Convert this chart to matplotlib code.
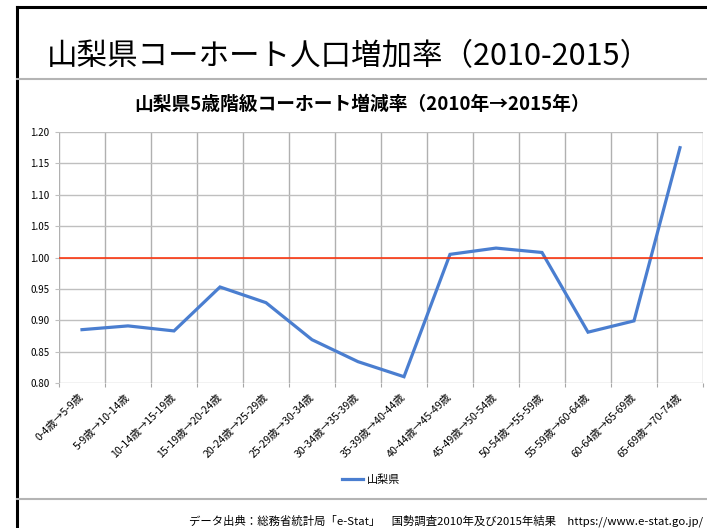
import matplotlib.pyplot as plt
from matplotlib.lines import Line2D

plt.rcParams['font.family'] = ['Noto Sans CJK JP', 'DejaVu Sans']

# 5-year cohort labels and change ratios (2010 -> 2015)
cohorts = ['0-4歳→5-9歳', '5-9歳→10-14歳', '10-14歳→15-19歳', '15-19歳→20-24歳',
           '20-24歳→25-29歳', '25-29歳→30-34歳', '30-34歳→35-39歳', '35-39歳→40-44歳',
           '40-44歳→45-49歳', '45-49歳→50-54歳', '50-54歳→55-59歳', '55-59歳→60-64歳',
           '60-64歳→65-69歳', '65-69歳→70-74歳']
ratios = [0.885, 0.891, 0.883, 0.953, 0.928, 0.869, 0.834, 0.810,
          1.005, 1.015, 1.008, 0.881, 0.899, 1.175]
baseline = 1.0
yticks = [0.80, 0.85, 0.90, 0.95, 1.00, 1.05, 1.10, 1.15, 1.20]

W, H = 707, 528
fig = plt.figure(figsize=(W / 100, H / 100), dpi=100)

# slide frame: black top/left border, grey separators
fig.add_artist(Line2D([17 / W, 17 / W], [0, 1 - 7 / H], color='black', lw=2.2))
fig.add_artist(Line2D([17 / W, 1], [1 - 7 / H, 1 - 7 / H], color='black', lw=2.2))
fig.add_artist(Line2D([17 / W, 1], [1 - 79 / H, 1 - 79 / H], color='#b4b4b4', lw=1.5))
fig.add_artist(Line2D([17 / W, 1], [1 - 499 / H, 1 - 499 / H], color='#b4b4b4', lw=1.5))

fig.text(47 / W, 1 - 57 / H, '山梨県コーホート人口増加率（2010-2015）',
         fontsize=22, va='center', ha='left')
fig.text(362 / W, 1 - 104 / H, '山梨県5歳階級コーホート増減率（2010年→2015年）',
         fontsize=13.5, fontweight='bold', va='center', ha='center')

ax = fig.add_axes([59 / W, 1 - 383 / H, (703 - 59) / W, (383 - 132) / H])
x = list(range(len(cohorts)))
ax.plot(x, ratios, color='#4a7ed0', lw=2.3, label='山梨県', solid_joinstyle='miter')
ax.axhline(baseline, color='#ff2a00', lw=1.1)

ax.set_xlim(-0.5, len(cohorts) - 0.5)
ax.set_ylim(0.80, 1.20)
ax.set_yticks(yticks)
ax.set_yticklabels([f'{v:.2f}' for v in yticks], fontsize=7)
ax.set_xticks([i - 0.5 for i in range(len(cohorts) + 1)], minor=False)
ax.set_xticklabels([])
ax.set_xticks(x, minor=True)
ax.set_xticklabels(cohorts, minor=True, rotation=45, ha='right', va='center',
                   rotation_mode='anchor', fontsize=7.6)
ax.tick_params(axis='x', which='minor', length=0, pad=9)
ax.tick_params(axis='x', which='major', length=3, color='#a6a6a6')
ax.tick_params(axis='y', length=3, color='#bfbfbf', pad=4)
ax.grid(axis='y', color='#bfbfbf', lw=1.0)
ax.grid(axis='x', which='major', color='#b0b0b0', lw=1.0)
ax.set_axisbelow(True)
for s in ax.spines.values():
    s.set_visible(False)

fig.legend(handles=ax.get_lines()[:1], loc='center', bbox_to_anchor=(371 / W, 1 - 480 / H),
           frameon=False, fontsize=8, handlelength=1.9, handletextpad=0.3)

fig.text(703 / W, 1 - 521 / H,
         'データ出典：総務省統計局「e-Stat」　国勢調査2010年及び2015年結果　https://www.e-stat.go.jp/',
         fontsize=8.2, va='center', ha='right')

fig.savefig('out.png', dpi=100)
